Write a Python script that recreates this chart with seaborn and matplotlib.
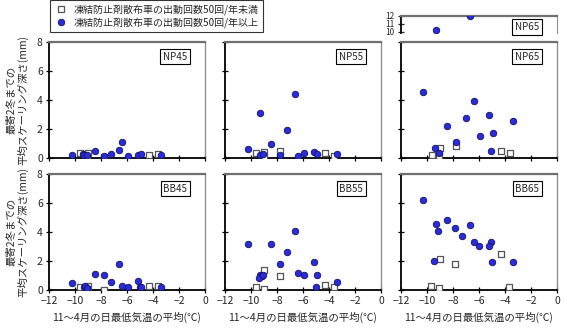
import matplotlib
matplotlib.use("Agg")
import matplotlib.pyplot as plt
import seaborn as sns
import pandas as pd
from matplotlib.lines import Line2D

sns.set_style("white")
plt.rcParams['font.family'] = ['Noto Sans CJK JP', 'DejaVu Sans']

# ---------------- data ----------------
panel_names = ["NP45", "NP55", "NP65", "BB45", "BB55", "BB65"]
legend_labels = ["凍結防止剤散布車の出動回数50回/年未満", "凍結防止剤散布車の出動回数50回/年以上"]
xlabel_text = "11～4月の日最低気温の平均(℃)"
ylabel_text = "最寄2冬までの\n平均スケーリング深さ(mm)"
xticks = [-12, -10, -8, -6, -4, -2, 0]
yticks = [0, 2, 4, 6, 8]
inset_yticks = [10, 11, 12]

# >=50 times/year (blue circles)
np45_hi_x = [-10.22, -9.42, -9.27, -9.06, -8.44, -7.77, -7.23, -6.64, -6.41, -5.92, -5.17, -4.91, -3.37]
np45_hi_y = [0.23, 0.25, 0.20, 0.21, 0.49, 0.14, 0.30, 0.58, 1.11, 0.14, 0.21, 0.25, 0.21]
np55_hi_x = [-6.65, -9.29, -7.22, -8.43, -10.22, -9.34, -9.08, -7.76, -6.36, -5.92, -5.14, -4.91, -3.37]
np55_hi_y = [4.43, 3.07, 1.90, 0.96, 0.60, 0.23, 0.25, 0.18, 0.11, 0.34, 0.41, 0.25, 0.30]
np65_hi_x = [-10.27, -6.39, -5.20, -7.01, -8.43, -3.40, -4.95, -5.95, -7.79, -9.39, -9.10, -5.05, -9.30, -6.70]
np65_hi_y = [4.56, 3.94, 3.00, 2.73, 2.20, 2.52, 1.72, 1.49, 1.08, 0.71, 0.37, 0.46, 10.2, 12.0]
bb45_hi_x = [-10.20, -8.44, -7.77, -6.64, -7.23, -6.38, -5.92, -5.17, -5.00, -4.90, -3.37, -9.34, -9.20, -9.06]
bb45_hi_y = [0.45, 1.08, 1.05, 1.80, 0.54, 0.31, 0.20, 0.61, 0.24, 0.24, 0.22, 0.22, 0.27, 0.17]
bb55_hi_x = [-10.22, -8.43, -6.65, -7.22, -7.79, -5.18, -6.37, -5.93, -4.93, -3.40, -9.29, -9.16, -9.39, -9.08, -5.00]
bb55_hi_y = [3.19, 3.14, 4.08, 2.59, 1.79, 1.95, 1.19, 1.06, 1.01, 0.55, 1.01, 0.96, 0.83, 1.01, 0.21]
bb65_hi_x = [-10.30, -9.34, -9.13, -8.49, -7.81, -6.68, -7.27, -6.42, -5.98, -5.07, -5.23, -9.44, -4.97, -3.42]
bb65_hi_y = [6.20, 4.52, 4.10, 4.84, 4.29, 4.47, 3.74, 3.28, 3.05, 3.30, 3.03, 2.02, 1.93, 1.90]

# <50 times/year (open squares)
np45_lo_x = [-9.63, -8.98, -7.80, -4.29, -3.62, -9.10]
np45_lo_y = [0.32, 0.35, 0.05, 0.23, 0.28, 0.07]
np55_lo_x = [-9.65, -9.00, -9.03, -7.76, -4.27, -3.63]
np55_lo_y = [0.37, 0.39, 0.05, 0.48, 0.37, 0.11]
np65_lo_x = [-9.00, -7.79, -9.65, -9.05, -4.30, -3.63]
np65_lo_y = [0.71, 0.80, 0.21, 0.11, 0.46, 0.37]
bb45_lo_x = [-9.63, -9.00, -9.10, -7.77, -4.29, -3.62]
bb45_lo_y = [0.22, 0.31, 0.08, 0.03, 0.27, 0.29]
bb55_lo_x = [-8.98, -7.79, -9.65, -9.00, -4.27, -3.63]
bb55_lo_y = [1.35, 0.94, 0.21, 0.09, 0.37, 0.21]
bb65_lo_x = [-9.03, -7.84, -4.33, -9.70, -9.08, -3.68]
bb65_lo_y = [2.16, 1.77, 2.48, 0.30, 0.11, 0.23]

hi = {"NP45": (np45_hi_x, np45_hi_y), "NP55": (np55_hi_x, np55_hi_y), "NP65": (np65_hi_x, np65_hi_y),
      "BB45": (bb45_hi_x, bb45_hi_y), "BB55": (bb55_hi_x, bb55_hi_y), "BB65": (bb65_hi_x, bb65_hi_y)}
lo = {"NP45": (np45_lo_x, np45_lo_y), "NP55": (np55_lo_x, np55_lo_y), "NP65": (np65_lo_x, np65_lo_y),
      "BB45": (bb45_lo_x, bb45_lo_y), "BB55": (bb55_lo_x, bb55_lo_y), "BB65": (bb65_lo_x, bb65_lo_y)}

# ---------------- styling ----------------
W, H = 567, 328
fig = plt.figure(figsize=(W / 100, H / 100), dpi=100)

def rect(l, t, r, b):
    return [l / W, 1 - b / H, (r - l) / W, (b - t) / H]

BLUE = "#2a2ae0"
BLUE_EDGE = "#14145a"
SQ_EDGE = "#555555"
FS = 7.5

col_lefts = [49, 225, 401]
row_tb = [(42, 158), (174, 290)]

def style_axes(ax, show_x, show_y):
    for s in ["left", "bottom"]:
        ax.spines[s].set_color("black")
        ax.spines[s].set_linewidth(1.3)
    ax.spines["top"].set_color("#707070")
    ax.spines["top"].set_linewidth(1.6)
    ax.spines["right"].set_color("#909090")
    ax.spines["right"].set_linewidth(1.0)
    ax.set_xlim(-12, 0)
    ax.set_ylim(0, 8)
    ax.set_xticks(xticks)
    ax.set_yticks(yticks)
    ax.tick_params(direction="inout", length=5, width=0.9, color="black",
                   labelsize=FS, pad=2, left=True, bottom=True)
    if not show_x:
        ax.set_xticklabels([])
    if not show_y:
        ax.set_yticklabels([])
    ax.set_xlabel("")
    ax.set_ylabel("")

def draw_points(ax, name):
    lx, ly = lo[name]
    hx, hy = hi[name]
    dlo = pd.DataFrame({"x": lx, "y": ly})
    dhi = pd.DataFrame({"x": hx, "y": hy})
    sns.scatterplot(data=dlo, x="x", y="y", ax=ax, marker="s", s=20,
                    color="white", edgecolor=SQ_EDGE, linewidth=0.9, zorder=3)
    sns.scatterplot(data=dhi, x="x", y="y", ax=ax, marker="o", s=22,
                    color=BLUE, edgecolor=BLUE_EDGE, linewidth=0.6, zorder=4)

def label_box(ax, text, x, y):
    ax.text(x, y, text, transform=ax.transAxes, ha="center", va="center",
            fontsize=7, zorder=6,
            bbox=dict(boxstyle="square,pad=0.3", fc="white", ec="black", lw=0.8))

for i, name in enumerate(panel_names):
    r, c = divmod(i, 3)
    t, b = row_tb[r]
    l = col_lefts[c]
    ax = fig.add_axes(rect(l, t, l + 156, b))
    draw_points(ax, name)
    style_axes(ax, show_x=(r == 1), show_y=(c == 0))
    label_box(ax, name, 0.81, 0.875)
    if c == 0:
        ax.set_ylabel(ylabel_text, fontsize=FS, linespacing=1.05, labelpad=6)
    if r == 1:
        ax.set_xlabel(xlabel_text, fontsize=FS, labelpad=4)

# broken-axis inset above NP65
axi = fig.add_axes(rect(401, 15.5, 557, 33.3))
draw_points(axi, "NP65")
axi.set_xlim(-12, 0)
axi.set_ylim(9.8, 12)
axi.set_yticks(inset_yticks)
axi.set_xticks([])
axi.spines["bottom"].set_visible(False)
axi.spines["left"].set_color("black")
axi.spines["left"].set_linewidth(1.3)
axi.spines["top"].set_color("#707070")
axi.spines["top"].set_linewidth(1.6)
axi.spines["right"].set_color("#909090")
axi.tick_params(axis="y", direction="inout", length=5, width=0.9, labelsize=6, pad=2, left=True)
axi.set_xlabel("")
axi.set_ylabel("")
axi.patch.set_alpha(0)
label_box(axi, "NP65", 0.806, 0.35)

# legend
handles = [
    Line2D([], [], marker="s", linestyle="none", markersize=4.5, markerfacecolor="white",
           markeredgecolor=SQ_EDGE, markeredgewidth=0.9),
    Line2D([], [], marker="o", linestyle="none", markersize=4.7, markerfacecolor=BLUE,
           markeredgecolor=BLUE_EDGE, markeredgewidth=0.6),
]
leg = fig.legend(handles, legend_labels, loc="upper left",
                 bbox_to_anchor=(50 / W, 1.0), fontsize=7.2, frameon=True, fancybox=False,
                 edgecolor="black", borderpad=0.4, handletextpad=0.6, labelspacing=0.2,
                 handlelength=1.4, borderaxespad=0)
leg.get_frame().set_linewidth(0.8)

fig.savefig("out.png", dpi=100)
